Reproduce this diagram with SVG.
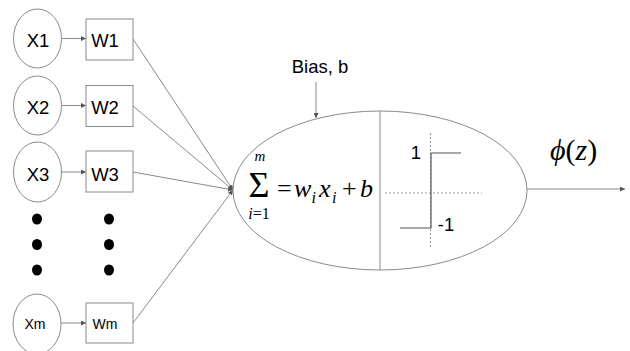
<svg xmlns="http://www.w3.org/2000/svg" width="630" height="351" viewBox="0 0 630 351">
<style>
.nd{fill:#fff;stroke:#8a8a8a;stroke-width:1}
.lbl{font-family:"Liberation Sans",Arial,sans-serif;font-size:18.5px;fill:#000;text-anchor:middle}
.sm{font-size:14px}
.cn{stroke:#8a8a8a;stroke-width:1;fill:none}
.m{font-family:"Liberation Serif","Times New Roman",serif;fill:#000}
.it{font-style:italic}
.dot{fill:#000}
</style>
<defs>
<marker id="ah" viewBox="0 0 6 6" refX="6" refY="3" markerWidth="5" markerHeight="5" orient="auto" markerUnits="userSpaceOnUse">
<path d="M0,0 L6,3 L0,6 z" fill="#555"/>
</marker>
</defs>
<g id="connectors">
<line class="cn" x1="62" y1="38.5" x2="86" y2="38.5" marker-end="url(#ah)"/>
<line class="cn" x1="62" y1="105.5" x2="86" y2="105.5" marker-end="url(#ah)"/>
<line class="cn" x1="62" y1="172" x2="86" y2="172" marker-end="url(#ah)"/>
<line class="cn" x1="61" y1="323" x2="86" y2="323" marker-end="url(#ah)"/>
<line class="cn" x1="133" y1="39" x2="233" y2="190" marker-end="url(#ah)"/>
<line class="cn" x1="133" y1="106" x2="233" y2="190" marker-end="url(#ah)"/>
<line class="cn" x1="133" y1="172" x2="233" y2="190" marker-end="url(#ah)"/>
<line class="cn" x1="133" y1="323" x2="233" y2="190" marker-end="url(#ah)"/>
<line class="cn" x1="316" y1="82" x2="316" y2="118" stroke="#333" marker-end="url(#ah)"/>
<line class="cn" x1="527" y1="189" x2="625" y2="189" marker-end="url(#ah)"/>
</g>
<g id="x1"><ellipse class="nd" cx="37.5" cy="38.5" rx="24" ry="29.5"/><text class="lbl" x="38" y="47">X1</text></g>
<g id="w1"><rect class="nd" x="86" y="19" width="47" height="41"/><text class="lbl" x="105" y="47">W1</text></g>
<g id="x2"><ellipse class="nd" cx="37.5" cy="105.5" rx="24" ry="29.5"/><text class="lbl" x="38" y="114">X2</text></g>
<g id="w2"><rect class="nd" x="86" y="85.5" width="47" height="41"/><text class="lbl" x="105" y="114">W2</text></g>
<g id="x3"><ellipse class="nd" cx="37.5" cy="172" rx="24" ry="30"/><text class="lbl" x="38" y="180.5">X3</text></g>
<g id="w3"><rect class="nd" x="86" y="151" width="47" height="41"/><text class="lbl" x="105" y="180.5">W3</text></g>
<g id="dots">
<ellipse class="dot" cx="37" cy="219" rx="5" ry="5.5"/>
<ellipse class="dot" cx="37" cy="244.5" rx="5" ry="5.5"/>
<ellipse class="dot" cx="37" cy="270" rx="5" ry="5.5"/>
<ellipse class="dot" cx="109" cy="219" rx="5" ry="5.5"/>
<ellipse class="dot" cx="109" cy="244.5" rx="5" ry="5.5"/>
<ellipse class="dot" cx="109" cy="270" rx="5" ry="5.5"/>
</g>
<g id="xm"><ellipse class="nd" cx="37" cy="324" rx="24" ry="30"/><text class="lbl sm" x="35" y="329">Xm</text></g>
<g id="wm"><rect class="nd" x="86" y="303" width="47" height="40"/><text class="lbl sm" x="105" y="329">Wm</text></g>
<g id="bias"><text class="lbl" x="320" y="73">Bias, b</text></g>
<g id="neuron">
<ellipse class="nd" cx="380" cy="190.5" rx="147" ry="79.5"/>
<line class="cn" x1="380" y1="111" x2="380" y2="270"/>
<text class="m" x="259" y="197" font-size="36" text-anchor="middle">Σ</text>
<text class="m it" x="260" y="161" font-size="15" text-anchor="middle">m</text>
<text class="m" x="259" y="219" font-size="16" text-anchor="middle"><tspan font-style="italic">i</tspan>=1</text>
<text class="m" x="277" y="197" font-size="26">=</text>
<text class="m it" x="294" y="197" font-size="26">w</text>
<text class="m it" x="311.5" y="203" font-size="16">i</text>
<text class="m it" x="319" y="197" font-size="26">x</text>
<text class="m it" x="332" y="203" font-size="16">i</text>
<text class="m" x="342" y="197" font-size="26">+</text>
<text class="m it" x="360" y="197" font-size="26">b</text>
<line x1="430.5" y1="133" x2="430.5" y2="247" stroke="#999" stroke-width="1" stroke-dasharray="2,2"/>
<line x1="385" y1="193" x2="482" y2="193" stroke="#999" stroke-width="1" stroke-dasharray="2,2"/>
<polyline points="400,228 431,228 431,153 461,153" fill="none" stroke="#555" stroke-width="1.2"/>
<text class="lbl" x="416" y="159" font-size="16">1</text>
<text class="lbl" x="446" y="231" font-size="16">-1</text>
</g>
<g id="output"><text class="m" x="550" y="160" font-size="30"><tspan font-style="italic">ϕ</tspan>(<tspan font-style="italic">z</tspan>)</text></g>
</svg>
